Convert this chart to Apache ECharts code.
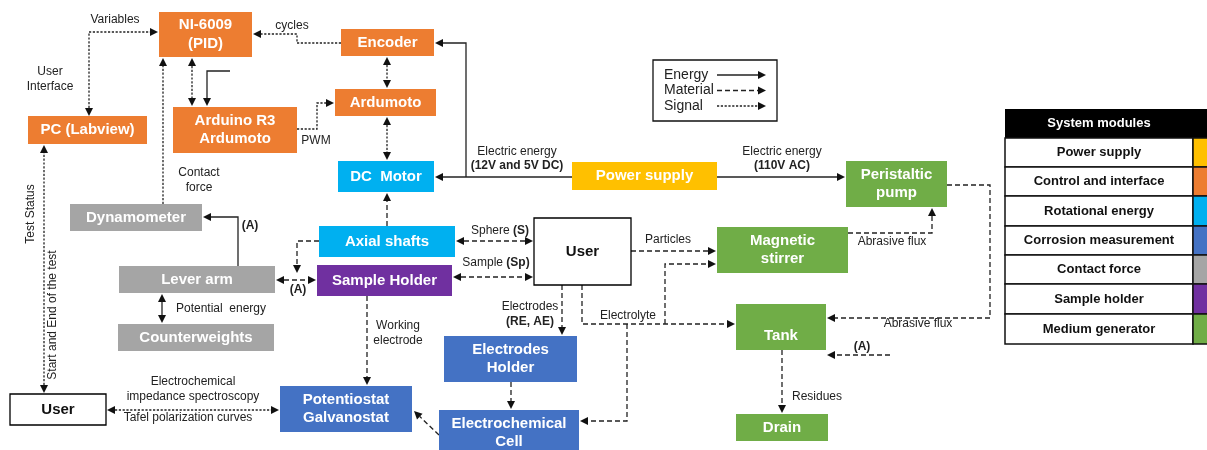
<!DOCTYPE html>
<html><head><meta charset="utf-8">
<script src="https://cdn.jsdelivr.net/npm/echarts@6/dist/echarts.min.js"></script>
<style>html,body{margin:0;padding:0;background:#fff}#c{width:1207px;height:450px}</style>
</head><body><div id="c"></div>
<script>
// ---- data ----
const moduleNames = ['Power supply','Control and interface','Rotational energy','Corrosion measurement','Contact force','Sample holder','Medium generator'];
const moduleColors = ['#FFC000','#ED7D31','#00B0F0','#4472C4','#A5A5A5','#7030A0','#70AD47'];
const nodeLabels = ['NI-6009\n(PID)','Encoder','Ardumoto','Arduino R3\nArdumoto','PC (Labview)','DC  Motor','Power supply',
  'Peristaltic\npump','Magnetic\nstirrer','Tank','Drain','Dynamometer','Axial shafts','Lever arm','Sample Holder',
  'Counterweights','User','Potentiostat\nGalvanostat','User','Electrodes\nHolder','Electrochemical\nCell'];
const nodeModules = [1,1,1,1,1,2,0,6,6,6,6,4,2,4,5,4,-1,3,-1,3,3];
// layout [x1,y1,x2,y2,textDy]
const nodeLayout = [[159,12,252,57,0],[341,29,434,56,0],[335,89,436,116,0],[173,107,297,153,0],[28,116,147,144,0],
  [338,161,434,192,0],[572,162,717,190,0],[846,161,947,207,0],[717,227,848,273,0],[736,304,826,350,9],[736,414,828,441,0],
  [70,204,202,231,0],[319,226,455,257,0],[119,266,275,293,0],[317,265,452,296,0],[118,324,274,351,0],
  [10,394,106,425,0],[280,386,412,432,0],[534,218,631,285,0],[444,336,577,382,0],[439,410,579,456,0]];
const flowTypes = ['Energy','Material','Signal'];
// edges: route points, type index, [startArrow,endArrow]
const edgeRoutes = [
  [[89,116],[89,32],[158,32]], [[341,43],[297,43],[297,34],[253,34]], [[192,58],[192,106]],
  [[230,71],[207,71],[207,106]], [[297,129],[317,129],[317,103],[334,103]], [[387,57],[387,88]], [[387,117],[387,160]],
  [[572,177],[435,177]], [[466,177],[466,43],[435,43]], [[717,177],[845,177]], [[163,204],[163,58]],
  [[44,393],[44,145]], [[238,266],[238,217],[203,217]], [[162,294],[162,323]],
  [[319,241],[297,241],[297,273]], [[276,280],[316,280]], [[387,226],[387,193]],
  [[456,241],[533,241]], [[453,277],[533,277]], [[631,251],[716,251]],
  [[582,285],[582,324],[735,324]], [[665,324],[665,264],[716,264]], [[627,324],[627,421],[580,421]],
  [[562,285],[562,335]], [[511,382],[511,409]], [[439,435],[414,411]], [[367,296],[367,385]],
  [[107,410],[279,410]], [[848,233],[932,233],[932,208]], [[947,185],[990,185],[990,318],[827,318]],
  [[890,355],[827,355]], [[782,350],[782,413]]];
const edgeTypes = [2,2,2,0,2,2,2,0,0,0,2,2,0,0,1,1,1,1,1,1,1,1,1,1,1,1,1,2,1,1,1,1];
const edgeArrows = [[1,1],[0,1],[1,1],[0,1],[0,1],[1,1],[1,1],[0,1],[0,1],[0,1],[0,1],[1,1],[0,1],[1,1],
  [0,1],[1,1],[0,1],[1,1],[1,1],[0,1],[0,1],[0,1],[0,1],[0,1],[0,1],[0,1],[0,1],[1,1],[0,1],[0,1],[0,1],[0,1]];
// labels: text, x, y, bold, rotated
const edgeLabels = [
  ['Variables',115,20,0,0],['User\nInterface',50,79,0,0],['cycles',292,26,0,0],['PWM',316,141,0,0],
  ['Contact\nforce',199,180,0,0],['Electric energy',517,152,0,0],['(12V and 5V DC)',517,166,1,0],
  ['Electric energy',782,152,0,0],['(110V AC)',782,166,1,0],['Test Status',31,214,0,1],
  ['Start and End of the test',53,315,0,1],['(A)',250,226,1,0],['Potential  energy',221,309,0,0],['(A)',298,290,1,0],
  ['Working\nelectrode',398,333,0,0],['Electrochemical\nimpedance spectroscopy',193,389,0,0],
  ['Tafel polarization curves',188,418,0,0],['Particles',668,240,0,0],['Electrodes',530,307,0,0],['(RE, AE)',530,322,1,0],
  ['Electrolyte',628,316,0,0],['Abrasive flux',892,242,0,0],['Abrasive flux',918,324,0,0],['(A)',862,347,1,0],
  ['Residues',817,397,0,0]];
const richLabels = [['Sphere ','(S)',500,231],['Sample ','(Sp)',496,263]];

const FONT = "'Liberation Sans', Arial, sans-serif";
const DASH = [null, [5,3], [2.2,1.6]];

function arrowHead(tip, prev, L, W){
  let dx = tip[0]-prev[0], dy = tip[1]-prev[1];
  const len = Math.hypot(dx,dy) || 1; dx/=len; dy/=len;
  const bx = tip[0]-dx*L, by = tip[1]-dy*L;
  return {pts:[[tip[0],tip[1]],[bx-dy*W,by+dx*W],[bx+dy*W,by-dx*W]], base:[bx,by]};
}
function buildEdge(api, pts, type, arrows){
  const p = pts.map(q=>api.coord(q));
  const children = [];
  const line = p.map(q=>q.slice());
  if (arrows[0]) { const a = arrowHead(p[0], p[1], 8, 4); line[0] = a.base; children.push({type:'polygon', shape:{points:a.pts}, style:{fill:'#111'}}); }
  if (arrows[1]) { const n=p.length; const a = arrowHead(p[n-1], p[n-2], 8, 4); line[n-1] = a.base; children.push({type:'polygon', shape:{points:a.pts}, style:{fill:'#111'}}); }
  children.unshift({type:'polyline', shape:{points:line}, style:{stroke:'#222', lineWidth:1.3, lineDash:DASH[type], fill:null}});
  return {type:'group', children};
}

const chart = echarts.init(document.getElementById('c'), null, {renderer:'canvas'});
const option = {
  animation:false,
  grid:{left:0,right:0,top:0,bottom:0},
  xAxis:{type:'value',min:0,max:1207,show:false},
  yAxis:{type:'value',min:0,max:450,inverse:true,show:false},
  series:[
    { // edges
      type:'custom', clip:false, silent:true, z:1,
      data: edgeRoutes.map((r,i)=>[r[0][0], r[0][1], i]),
      encode:{x:0,y:1},
      renderItem:(params, api)=>{ const i = api.value(2); return buildEdge(api, edgeRoutes[i], edgeTypes[i], edgeArrows[i]); }
    },
    { // nodes
      type:'custom', clip:false, silent:true, z:2,
      data: nodeLayout.map((b,i)=>[(b[0]+b[2])/2,(b[1]+b[3])/2,i]),
      encode:{x:0,y:1},
      renderItem:(params, api)=>{
        const i = api.value(2), b = nodeLayout[i];
        const p1 = api.coord([b[0],b[1]]), p2 = api.coord([b[2],b[3]]);
        const m = nodeModules[i];
        const white = m < 0;
        return {type:'group', children:[
          {type:'rect', shape:{x:p1[0],y:p1[1],width:p2[0]-p1[0],height:p2[1]-p1[1]},
           style:{fill: white ? '#fff' : moduleColors[m], stroke: white ? '#000' : null, lineWidth: white ? 1.3 : 0}},
          {type:'text', style:{text:nodeLabels[i], x:(p1[0]+p2[0])/2, y:(p1[1]+p2[1])/2 + b[4], align:'center', verticalAlign:'middle',
            fill: white ? '#111' : '#fff', font:'bold 15px '+FONT, lineHeight:18.5}}
        ]};
      }
    },
    { // labels
      type:'custom', clip:false, silent:true, z:3,
      data: edgeLabels.map((l,i)=>[l[1],l[2],i]),
      encode:{x:0,y:1},
      renderItem:(params, api)=>{
        const l = edgeLabels[api.value(2)], p = api.coord([l[1],l[2]]);
        return {type:'text', x:p[0], y:p[1], rotation: l[4] ? Math.PI/2 : 0,
          style:{text:l[0], x:0, y:0, align:'center', verticalAlign:'middle', fill:'#222',
            font:(l[3]?'bold ':'')+'12px '+FONT, lineHeight:15}};
      }
    },
    { // rich labels
      type:'custom', clip:false, silent:true, z:3,
      data: richLabels.map((l,i)=>[l[2],l[3],i]),
      encode:{x:0,y:1},
      renderItem:(params, api)=>{
        const l = richLabels[api.value(2)], p = api.coord([l[2],l[3]]);
        return {type:'text', style:{text:l[0]+'{b|'+l[1]+'}', x:p[0], y:p[1], align:'center', verticalAlign:'middle', fill:'#222',
          font:'12px '+FONT, rich:{b:{fontWeight:'bold', fontSize:12, fontFamily:FONT, fill:'#222'}}}};
      }
    },
    { // flow legend
      type:'custom', clip:false, silent:true, z:3,
      data: flowTypes.map((f,i)=>[664, 75+i*15.5, i]),
      encode:{x:0,y:1},
      renderItem:(params, api)=>{
        const i = api.value(2), y = api.value(1);
        const ch = [];
        if (i===0) { const a = api.coord([653,60]), b = api.coord([777,121]);
          ch.push({type:'rect', shape:{x:a[0],y:a[1],width:b[0]-a[0],height:b[1]-a[1]}, style:{fill:'#fff', stroke:'#111', lineWidth:1.3}}); }
        const t = api.coord([664,y]);
        ch.push({type:'text', style:{text:flowTypes[i], x:t[0], y:t[1], align:'left', verticalAlign:'middle', fill:'#222', font:'14px '+FONT}});
        ch.push(buildEdge(api, [[717,y],[766,y]], i, [0,1]));
        return {type:'group', children:ch};
      }
    },
    { // system modules table
      type:'custom', clip:false, silent:true, z:3,
      data: moduleNames.map((m,i)=>[1099, 152+i*29.3, i]),
      encode:{x:0,y:1},
      renderItem:(params, api)=>{
        const i = api.value(2);
        const rows = [138,167,196,226,255,284,314,344];
        const ch = [];
        const a = api.coord([1005, rows[i]]), b = api.coord([1193, rows[i+1]]), c = api.coord([1208, rows[i+1]]);
        if (i===0) {
          const h0 = api.coord([1005,109]);
          ch.push({type:'rect', shape:{x:h0[0],y:h0[1],width:c[0]-h0[0],height:a[1]-h0[1]}, style:{fill:'#000'}});
          ch.push({type:'text', style:{text:'System modules', x:(a[0]+b[0])/2, y:(h0[1]+a[1])/2, align:'center', verticalAlign:'middle', fill:'#fff', font:'bold 13px '+FONT}});
        }
        ch.push({type:'rect', shape:{x:a[0],y:a[1],width:b[0]-a[0],height:b[1]-a[1]}, style:{fill:'#fff', stroke:'#111', lineWidth:1.5}});
        ch.push({type:'rect', shape:{x:b[0],y:a[1],width:c[0]-b[0],height:b[1]-a[1]}, style:{fill:moduleColors[i], stroke:'#111', lineWidth:1.5}});
        ch.push({type:'text', style:{text:moduleNames[i], x:(a[0]+b[0])/2, y:(a[1]+b[1])/2, align:'center', verticalAlign:'middle', fill:'#111', font:'bold 13px '+FONT}});
        return {type:'group', children:ch};
      }
    }
  ]
};
chart.setOption(option);
</script>
</body></html>
